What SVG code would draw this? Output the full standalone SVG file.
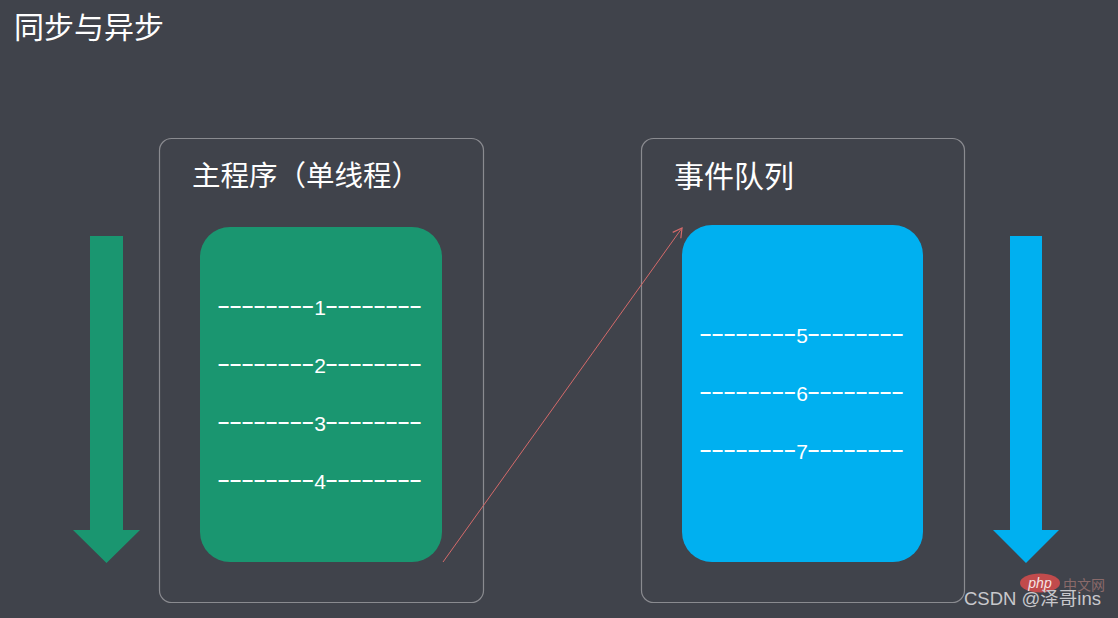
<svg xmlns="http://www.w3.org/2000/svg" width="1118" height="618" viewBox="0 0 1118 618">
<defs>
<marker id="ah" markerWidth="12" markerHeight="12" refX="10" refY="6" orient="auto" markerUnits="userSpaceOnUse">
<path d="M1,1 L10,6 L1,11" fill="none" stroke="#d46a6a" stroke-width="1.2"/>
</marker>
</defs>
<style>
.cjk{font-family:"Noto Sans CJK SC","Noto Sans",sans-serif;fill:#ffffff}
.frame{fill:none;stroke:#8a8b90;stroke-width:1.2}
.row{font-family:"Liberation Sans",Arial,sans-serif;fill:#ffffff}
.d{font-size:20px;letter-spacing:0.9px;font-weight:bold}
.n{font-size:21px;letter-spacing:0;font-weight:normal}
</style>
<rect width="1118" height="618" fill="#40434b"/>
<text class="cjk" x="14" y="38" font-size="30">同步与异步</text>

<g id="sync-arrow"><path d="M90,236 H123 V530 H140 L106.5,563 L73,530 H90 Z" fill="#1a9670"/></g>
<g id="queue-arrow"><path d="M1010,236 H1042 V530 H1059 L1026,563 L993,530 H1010 Z" fill="#00b0f0"/></g>

<g id="main-program">
<rect class="frame" x="159.5" y="138.5" width="324" height="464" rx="12"/>
<text class="cjk" x="192" y="186" font-size="28.5">主程序（单线程）</text>
<rect x="200" y="227" width="242" height="335" rx="30" fill="#1a9670"/>
<text class="row" x="218" y="315"><tspan class="d" dy="-3">––––––––</tspan><tspan class="n" dy="3">1</tspan><tspan class="d" dy="-3">––––––––</tspan></text>
<text class="row" x="218" y="373"><tspan class="d" dy="-3">––––––––</tspan><tspan class="n" dy="3">2</tspan><tspan class="d" dy="-3">––––––––</tspan></text>
<text class="row" x="218" y="431"><tspan class="d" dy="-3">––––––––</tspan><tspan class="n" dy="3">3</tspan><tspan class="d" dy="-3">––––––––</tspan></text>
<text class="row" x="218" y="489"><tspan class="d" dy="-3">––––––––</tspan><tspan class="n" dy="3">4</tspan><tspan class="d" dy="-3">––––––––</tspan></text>
</g>

<g id="event-queue">
<rect class="frame" x="641.5" y="138.5" width="323" height="464" rx="12"/>
<text class="cjk" x="674" y="187" font-size="30">事件队列</text>
<rect x="682" y="225" width="241" height="337" rx="30" fill="#00b0f0"/>
<text class="row" x="700" y="343"><tspan class="d" dy="-3">––––––––</tspan><tspan class="n" dy="3">5</tspan><tspan class="d" dy="-3">––––––––</tspan></text>
<text class="row" x="700" y="401"><tspan class="d" dy="-3">––––––––</tspan><tspan class="n" dy="3">6</tspan><tspan class="d" dy="-3">––––––––</tspan></text>
<text class="row" x="700" y="459"><tspan class="d" dy="-3">––––––––</tspan><tspan class="n" dy="3">7</tspan><tspan class="d" dy="-3">––––––––</tspan></text>
</g>

<g id="connectors">
<line x1="443" y1="562" x2="682" y2="228" stroke="#d46a6a" stroke-width="1" marker-end="url(#ah)"/>
</g>

<g id="watermark">
<ellipse cx="1040" cy="583" rx="20" ry="9.5" fill="#d84c4c" opacity="0.85"/>
<text x="1040" y="588" font-family="Liberation Sans,sans-serif" font-size="14" font-style="italic" fill="#ffffff" text-anchor="middle" opacity="0.85">php</text>
<text class="cjk" x="1063" y="590" font-size="14" style="fill:#8a6a6a">中文网</text>
<text x="964" y="605" font-family="Liberation Sans,'Noto Sans CJK SC',sans-serif" font-size="18.5" fill="#c8c8cc">CSDN @泽哥ins</text>
</g>
</svg>
